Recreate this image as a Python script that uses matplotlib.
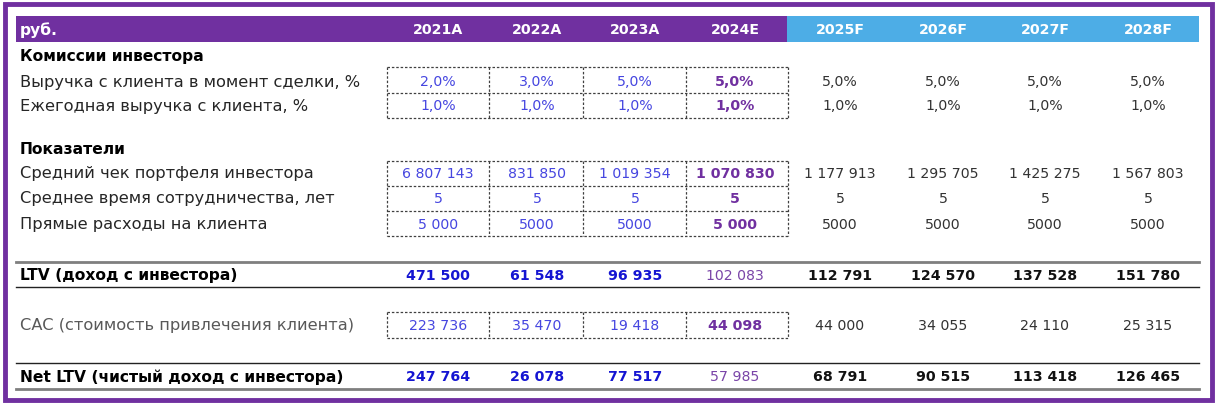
import matplotlib.pyplot as plt
from matplotlib.patches import Rectangle

# table data
years = ['2021A', '2022A', '2023A', '2024E', '2025F', '2026F', '2027F', '2028F']
deal_pct = [2.0, 3.0, 5.0, 5.0, 5.0, 5.0, 5.0, 5.0]
annual_pct = [1.0, 1.0, 1.0, 1.0, 1.0, 1.0, 1.0, 1.0]
avg_check = [6807143, 831850, 1019354, 1070830, 1177913, 1295705, 1425275, 1567803]
coop_years = [5, 5, 5, 5, 5, 5, 5, 5]
direct_costs = ['5 000', '5000', '5000', '5 000', '5000', '5000', '5000', '5000']
ltv = [471500, 61548, 96935, 102083, 112791, 124570, 137528, 151780]
cac = [223736, 35470, 19418, 44098, 44000, 34055, 24110, 25315]
net_ltv = [247764, 26078, 77517, 57985, 68791, 90515, 113418, 126465]

PURPLE = '#7030A0'
BLUE_HDR = '#4DADE6'
INPUT = '#4646E0'
BOLD_BLUE = '#1414D2'
DARK = '#262626'
FC = '#333333'

plt.rcParams['font.family'] = ['DejaVu Sans']

fig = plt.figure(figsize=(12.2, 4.06), dpi=100)
ax = fig.add_axes([0, 0, 1, 1])
ax.set_xlim(0, 1220)
ax.set_ylim(406, 0)
ax.axis('off')

col_x = [438, 537, 635, 735, 840, 943, 1045, 1148]
box_edges = [387, 489, 583, 686, 788]
left, right = 16, 1199
fs = 10.2
lab_fs = 11.7
bold_fs = 11.2


def fmt(v):
    return f'{v:,}'.replace(',', ' ')


def pct(v):
    return f'{v:.1f}%'.replace('.', ',')


# frame
ax.add_patch(Rectangle((5, 5), 1207, 396, fill=False, ec=PURPLE, lw=3.5))

# header
ax.add_patch(Rectangle((left, 17), 787 - left, 26, color=PURPLE, lw=0))
ax.add_patch(Rectangle((787, 17), right - 787, 26, color=BLUE_HDR, lw=0))
ax.text(20, 30, 'руб.', color='white', fontsize=bold_fs, fontweight='bold', va='center')
for x, y in zip(col_x, years):
    ax.text(x, 30, y, color='white', fontsize=fs, fontweight='bold', va='center', ha='center')


def dashed_box(y0, y1, splits):
    for ys in [y0, y1] + splits:
        ax.plot([box_edges[0], box_edges[-1]], [ys, ys], color='#404040', lw=0.9, ls=(0, (2, 1.5)))
    for xs in box_edges:
        ax.plot([xs, xs], [y0, y1], color='#404040', lw=0.9, ls=(0, (2, 1.5)))


def row_values(y, labels, kind='input'):
    for i, (x, s) in enumerate(zip(col_x, labels)):
        if kind == 'input':
            if i < 3:
                c, w = INPUT, 'normal'
            elif i == 3:
                c, w = PURPLE, 'bold'
            else:
                c, w = FC, 'normal'
        else:
            if i < 3:
                c, w = BOLD_BLUE, 'bold'
            elif i == 3:
                c, w = '#7A45A8', 'normal'
            else:
                c, w = '#111111', 'bold'
        ax.text(x, y, s, color=c, fontsize=fs, fontweight=w, va='center', ha='center')


# section: commissions
ax.text(20, 56, 'Комиссии инвестора', color='black', fontsize=bold_fs, fontweight='bold', va='center')
ax.text(20, 82, 'Выручка с клиента в момент сделки, %', color=DARK, fontsize=lab_fs, va='center')
ax.text(20, 106, 'Ежегодная выручка с клиента, %', color=DARK, fontsize=lab_fs, va='center')
dashed_box(68, 119, [94])
row_values(82, [pct(v) for v in deal_pct])
row_values(106, [pct(v) for v in annual_pct])

# section: metrics
ax.text(20, 150, 'Показатели', color='black', fontsize=bold_fs, fontweight='bold', va='center')
ax.text(20, 174, 'Средний чек портфеля инвестора', color=DARK, fontsize=lab_fs, va='center')
ax.text(20, 199, 'Среднее время сотрудничества, лет', color=DARK, fontsize=lab_fs, va='center')
ax.text(20, 225, 'Прямые расходы на клиента', color=DARK, fontsize=lab_fs, va='center')
dashed_box(162, 237, [187, 212])
row_values(174, [fmt(v) for v in avg_check])
row_values(199, [str(v) for v in coop_years])
row_values(225, direct_costs)

# LTV
ax.plot([left, right], [263, 263], color='#7f7f7f', lw=2)
ax.plot([left, right], [288, 288], color='#222222', lw=1)
ax.text(20, 276, 'LTV (доход с инвестора)', color='black', fontsize=bold_fs, fontweight='bold', va='center')
row_values(276, [fmt(v) for v in ltv], kind='total')

# CAC
ax.text(20, 326, 'CAC (стоимость привлечения клиента)', color='#595959', fontsize=lab_fs, va='center')
dashed_box(313, 339, [])
row_values(326, [fmt(v) for v in cac])

# Net LTV
ax.plot([left, right], [364, 364], color='#222222', lw=1)
ax.plot([left, right], [390, 390], color='#7f7f7f', lw=2)
ax.text(20, 377, 'Net LTV (чистый доход с инвестора)', color='black', fontsize=bold_fs, fontweight='bold', va='center')
row_values(377, [fmt(v) for v in net_ltv], kind='total')

fig.savefig('out.png', dpi=100)
